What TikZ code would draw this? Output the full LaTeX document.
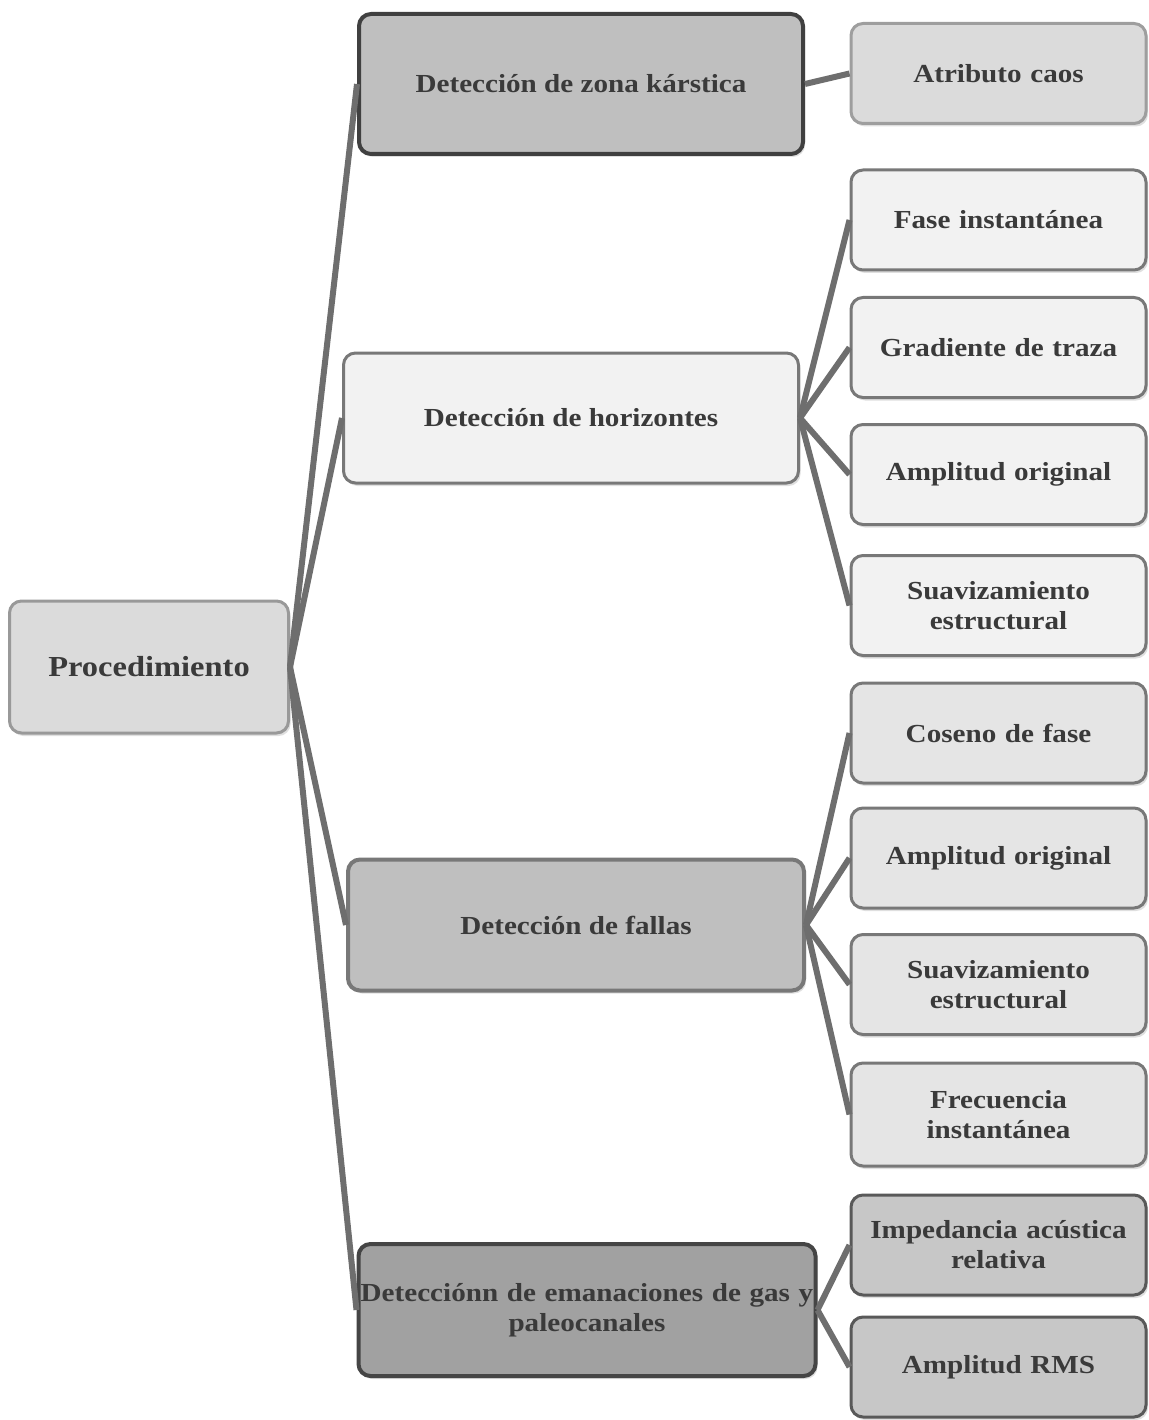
\documentclass[tikz,border=0pt]{standalone}
\usepackage{fontspec}
\setmainfont[FakeStretch=1.12]{Liberation Serif}
\usetikzlibrary{shadows}
\definecolor{txt}{HTML}{3A3A3A}
\definecolor{conn}{HTML}{6E6E6E}
\tikzset{
  box/.style={draw, rounded corners=12pt, align=center, text=txt,
    font=\bfseries\fontsize{26}{30}\selectfont, inner sep=2pt,
    drop shadow={shadow xshift=2pt, shadow yshift=-3pt, fill=black!25, opacity=0.5}},
  kid/.style={box, minimum width=295pt, minimum height=100pt, line width=3pt, text width=291pt},
  link/.style={draw=conn, line width=6pt}
}
\begin{document}
\begin{tikzpicture}[x=1pt,y=-1pt]
\useasboundingbox (0,0) rectangle (1148,1420);
% level 0
\node[box, minimum width=279pt, minimum height=132pt, fill=black!14, draw=black!40, line width=3pt, font=\bfseries\fontsize{29}{33}\selectfont] (proc) at (149,667) {Procedimiento};
% level 1
\node[box, minimum width=444pt, minimum height=140pt, fill=black!25, draw=black!75, line width=4pt] (kar) at (581,84) {Detección de zona kárstica};
\node[box, minimum width=455pt, minimum height=130pt, fill=black!5, draw=black!53, line width=3pt] (hor) at (571,418) {Detección de horizontes};
\node[box, minimum width=456pt, minimum height=131pt, fill=black!25, draw=black!53, line width=4pt] (fal) at (576,925) {Detección de fallas};
\node[box, minimum width=457pt, minimum height=132pt, fill=black!37, draw=black!73, line width=4pt, text width=453pt] (ema) at (587,1310) {Detecciónn de emanaciones de gas y\\paleocanales};
% level 2
\node[kid, fill=black!14, draw=black!38] (caos) at (998.5,73.5) {Atributo caos};
\node[kid, fill=black!5, draw=black!53] (fase) at (998.5,220) {Fase instantánea};
\node[kid, fill=black!5, draw=black!53] (grad) at (998.5,347.5) {Gradiente de traza};
\node[kid, fill=black!5, draw=black!53] (amp1) at (998.5,474.5) {Amplitud original};
\node[kid, fill=black!5, draw=black!53] (suav1) at (998.5,605.5) {Suavizamiento\\estructural};
\node[kid, fill=black!10, draw=black!53] (cos) at (998.5,733) {Coseno de fase};
\node[kid, fill=black!10, draw=black!53] (amp2) at (998.5,858) {Amplitud original};
\node[kid, fill=black!10, draw=black!53] (suav2) at (998.5,984.5) {Suavizamiento\\estructural};
\node[kid, fill=black!10, draw=black!53, minimum height=103pt] (freq) at (998.5,1114.5) {Frecuencia\\instantánea};
\node[kid, fill=black!22, draw=black!65] (imp) at (998.5,1245) {Impedancia acústica\\relativa};
\node[kid, fill=black!22, draw=black!65] (rms) at (998.5,1367) {Amplitud RMS};
% connectors
\foreach \c in {kar,hor,fal,ema} \draw[link] (proc.east) -- (\c.west);
\draw[link] (kar.east) -- (caos.west);
\foreach \c in {fase,grad,amp1,suav1} \draw[link] (hor.east) -- (\c.west);
\foreach \c in {cos,amp2,suav2,freq} \draw[link] (fal.east) -- (\c.west);
\foreach \c in {imp,rms} \draw[link] (ema.east) -- (\c.west);
\end{tikzpicture}
\end{document}
